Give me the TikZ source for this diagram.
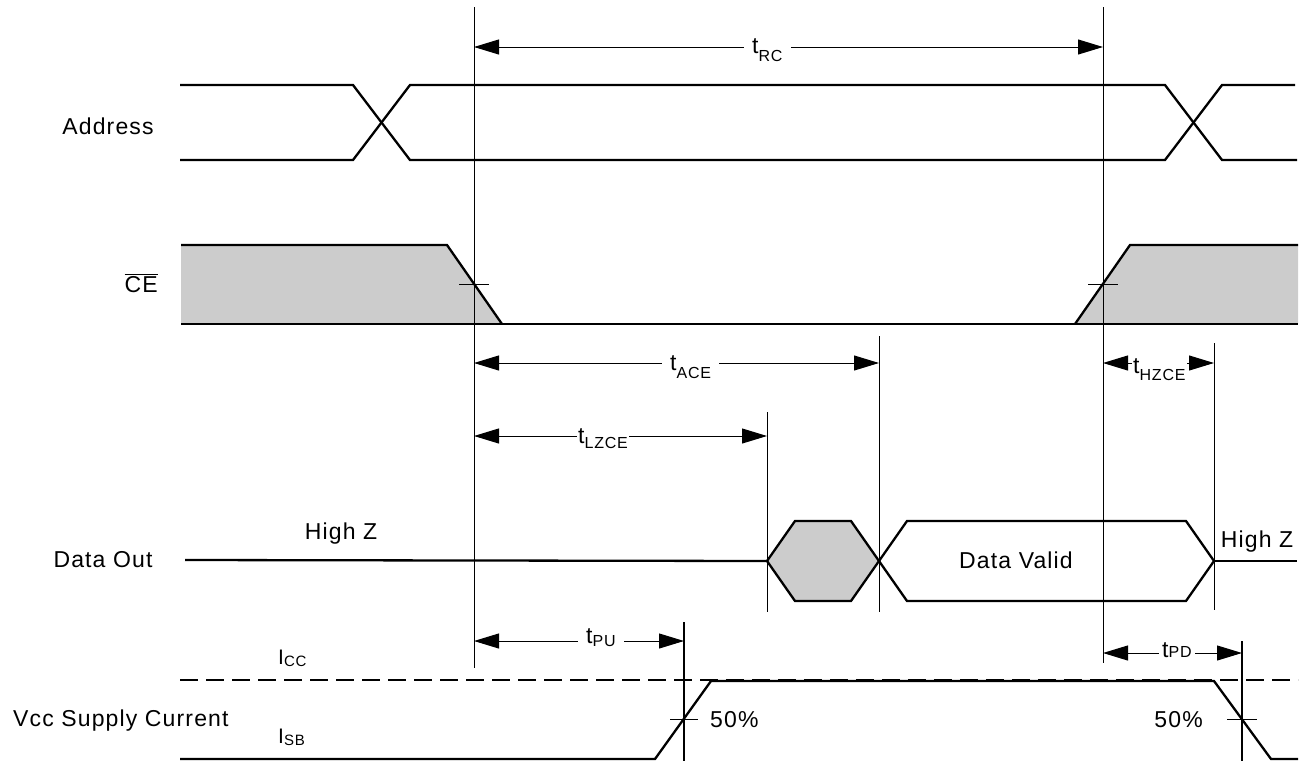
\documentclass[tikz,border=0pt]{standalone}
\usepackage{fontspec}
\setmainfont{Liberation Sans}[LetterSpace=5]
\usetikzlibrary{arrows.meta}
\definecolor{cegray}{HTML}{CCCCCC}
\newcommand\tsub[2]{t\raisebox{-#2pt}{\fontsize{16}{16}\selectfont #1}}
\newcommand\isub[2]{I\raisebox{-#2pt}{\fontsize{15}{15}\selectfont #1}}
\begin{document}
\begin{tikzpicture}[x=1pt,y=-1pt,
  sig/.style={line width=2.3pt, line join=miter},
  guide/.style={line width=1pt},
  heavyguide/.style={line width=2pt},
  dimarrow/.style={line width=1pt, {Triangle[length=25pt,width=15pt]}-{Triangle[length=25pt,width=15pt]}},
  lbl/.style={font=\fontsize{23}{27}\selectfont, inner sep=0pt},
  tlbl/.style={lbl, fill=white, inner xsep=8pt, inner ysep=2pt, anchor=base west}
]
\useasboundingbox (0,0) rectangle (1307,761);

% ---------- guide lines ----------
\coordinate (g1t) at (474,7);   \coordinate (g1b) at (474,668);
\coordinate (g2t) at (1103,7);  \coordinate (g2b) at (1103,663);
\coordinate (g3t) at (879,336); \coordinate (g3b) at (879,612);
\coordinate (g4t) at (767,412); \coordinate (g4b) at (767,612);
\coordinate (g5t) at (1214,343);\coordinate (g5b) at (1214,610);
\coordinate (g6t) at (684,622); \coordinate (g6b) at (684,761);
\coordinate (g7t) at (1242,641);\coordinate (g7b) at (1242,761);
\draw[guide] (g1t) -- (g1b);
\draw[guide] (g2t) -- (g2b);
\draw[guide] (g3t) -- (g3b);
\draw[guide] (g4t) -- (g4b);
\draw[guide] (g5t) -- (g5b);

% ---------- Address ----------
\draw[sig] (180,85) -- (353,85) -- (410,160) -- (1165,160) -- (1222,85) -- (1295,85);
\draw[sig] (180,160) -- (353,160) -- (410,85) -- (1165,85) -- (1222,160) -- (1297,160);

% ---------- CE ----------
\fill[cegray] (181,245) -- (447,245) -- (502,324) -- (181,324) -- cycle;
\fill[cegray] (1075,324) -- (1130,245) -- (1298,245) -- (1298,324) -- cycle;
\draw[sig] (181,245) -- (447,245) -- (502,324);
\draw[sig] (1075,324) -- (1130,245) -- (1298,245);
\draw[sig] (181,324) -- (1298,324);
\draw[guide] (474,324) -- (474,245);
\draw[guide] (1103,324) -- (1103,245);
\draw[guide] (459,284) -- (489,284);
\draw[guide] (1088,284) -- (1118,284);

% ---------- Data Out ----------
\draw[sig] (185,560) -- (767,561);
\draw[sig, fill=cegray] (767,561) -- (795,521) -- (851,521) -- (879,561) -- (851,601) -- (795,601) -- cycle;
\draw[sig] (879,561) -- (907,521) -- (1186,521) -- (1214,561) -- (1186,601) -- (907,601) -- cycle;
\draw[sig] (1214,561) -- (1297,561);
\draw[guide] (1103,515) -- (1103,607);
\draw[guide] (879,515) -- (879,607);

% ---------- Vcc supply current ----------
\draw[sig, dash pattern=on 18pt off 8pt] (180,680) -- (1298,680);
\draw[sig] (180,759) -- (655,759) -- (711,681) -- (1214,681) -- (1271,759) -- (1298,759);
\draw[heavyguide] (g6t) -- (g6b);
\draw[heavyguide] (g7t) -- (g7b);
\draw[guide] (670,719) -- (698,719);
\draw[guide] (1227,719) -- (1257,719);

% ---------- dimension arrows ----------
\coordinate (rcL) at (474,47);   \coordinate (rcR) at (1103,47);
\coordinate (aceL) at (474,363); \coordinate (aceR) at (879,363);
\coordinate (lzL) at (474,436);  \coordinate (lzR) at (767,436);
\coordinate (hzL) at (1103,363); \coordinate (hzR) at (1214,363);
\coordinate (puL) at (474,641);  \coordinate (puR) at (684,641);
\coordinate (pdL) at (1103,653); \coordinate (pdR) at (1242,653);
\draw[dimarrow] (rcL) -- (rcR);
\draw[dimarrow] (aceL) -- (aceR);
\draw[dimarrow] (lzL) -- (lzR);
\draw[dimarrow] (hzL) -- (hzR);
\draw[dimarrow] (puL) -- (puR);
\draw[dimarrow] (pdL) -- (pdR);

\node[tlbl] (trc) at (744,53) {\tsub{RC}{8}};
\node[tlbl] (tace) at (662,370) {\tsub{ACE}{8}};
\node[tlbl, inner xsep=1pt, xshift=7pt] (tlz) at (570,443) {\tsub{LZCE}{5}};
\node[tlbl, inner xsep=1pt] (thz) at (1132,373) {\tsub{HZCE}{7}};
\node[tlbl] (tpu) at (578,643) {\tsub{PU}{3}};
\node[tlbl, inner xsep=3pt] (tpd) at (1159,657) {\tsub{PD}{0}};

% ---------- labels ----------
\node[lbl, anchor=base] (addr) at (108,134) {Address};
\node[lbl, anchor=base east] (ce) at (158,292) {$\overline{\mbox{CE}}$};
\node[lbl, anchor=base] (dout) at (103,567) {Data Out};
\node[lbl, anchor=base] (hz1) at (341,539) {High Z};
\node[lbl, anchor=base] (hz2) at (1257,547) {High Z};
\node[lbl, anchor=base] (dv) at (1016,568) {Data Valid};
\node[lbl, anchor=base west] (vcc) at (13,726) {Vcc Supply Current};
\node[lbl, anchor=base west, font=\fontsize{21}{25}\selectfont] (icc) at (278,664) {\isub{CC}{2}};
\node[lbl, anchor=base west, font=\fontsize{21}{25}\selectfont] (isb) at (278,743) {\isub{SB}{2}};
\node[lbl, anchor=base west] (p50a) at (710,727) {50\%};
\node[lbl, anchor=base east] (p50b) at (1203,727) {50\%};
\end{tikzpicture}
\end{document}
